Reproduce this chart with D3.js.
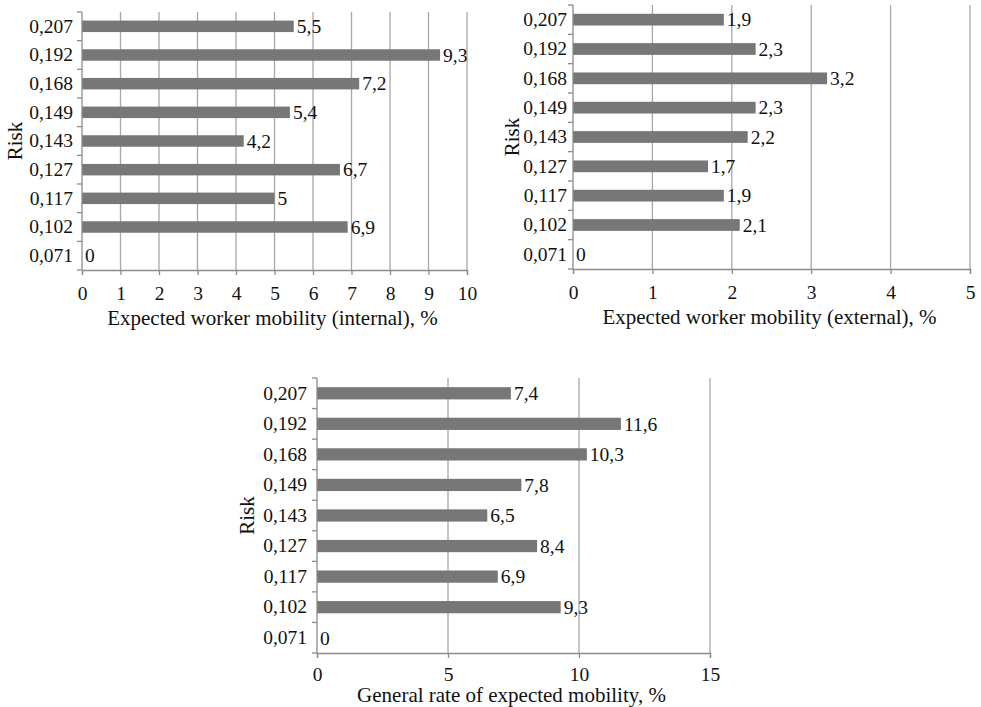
<!DOCTYPE html>
<html>
<head>
<meta charset="utf-8">
<script src="https://cdn.jsdelivr.net/npm/d3@7"></script>
<style>
  html, body { margin: 0; padding: 0; background: #fff; }
  svg { display: block; font-family: "Liberation Serif", "DejaVu Serif", serif; }
</style>
</head>
<body>
<svg id="chart" width="981" height="707"></svg>
<script>
// ---- Data ----
const riskCategories = ["0,207", "0,192", "0,168", "0,149", "0,143", "0,127", "0,117", "0,102", "0,071"];
const internalValues = [5.5, 9.3, 7.2, 5.4, 4.2, 6.7, 5, 6.9, 0];
const externalValues = [1.9, 2.3, 3.2, 2.3, 2.2, 1.7, 1.9, 2.1, 0];
const generalValues  = [7.4, 11.6, 10.3, 7.8, 6.5, 8.4, 6.9, 9.3, 0];
const internalTicks = [0, 1, 2, 3, 4, 5, 6, 7, 8, 9, 10];
const externalTicks = [0, 1, 2, 3, 4, 5];
const generalTicks  = [0, 5, 10, 15];
const xTitles = [
  "Expected worker mobility (internal), %",
  "Expected worker mobility (external), %",
  "General rate of expected mobility, %"
];
const yTitle = "Risk";

// ---- Layout ----
const panels = [
  { values: internalValues, ticks: internalTicks, title: xTitles[0],
    x0: 82, x1: 467, y0: 12, y1: 270, tickLabelDy: 23, titleDy: 48, yLabelGap: 9, riskX: 15 },
  { values: externalValues, ticks: externalTicks, title: xTitles[1],
    x0: 573, x1: 970, y0: 5, y1: 269, tickLabelDy: 23, titleDy: 48, yLabelGap: 6, riskX: 512 },
  { values: generalValues, ticks: generalTicks, title: xTitles[2],
    x0: 317, x1: 710, y0: 378, y1: 653, tickLabelDy: 21, titleDy: 42, yLabelGap: 10, riskX: 247 }
];

const fmt = v => String(v).replace(".", ",");
const svg = d3.select("#chart");
const fontSize = 19.5;
const titleSize = 21;
const fontFamily = "Liberation Serif";
const barColor = "#777777";
const gridColor = "#a8a8a8";
const axisColor = "#8c8c8c";

panels.forEach(p => {
  const g = svg.append("g");
  const x = d3.scaleLinear().domain([p.ticks[0], p.ticks[p.ticks.length - 1]]).range([p.x0, p.x1]);
  const y = d3.scaleBand().domain(riskCategories).range([p.y0, p.y1]).paddingInner(0.6).paddingOuter(0.3);
  const bandStep = (p.y1 - p.y0) / riskCategories.length;

  // gridlines
  g.selectAll("line.grid").data(p.ticks.slice(1)).enter().append("line")
    .attr("class", "grid")
    .attr("x1", d => x(d)).attr("x2", d => x(d))
    .attr("y1", p.y0).attr("y2", p.y1)
    .attr("stroke", gridColor).attr("stroke-width", 1.3);

  // bars
  g.selectAll("rect.bar").data(p.values).enter().append("rect")
    .attr("class", "bar")
    .attr("x", x(0))
    .attr("y", (d, i) => y(riskCategories[i]))
    .attr("width", d => x(d) - x(0))
    .attr("height", y.bandwidth())
    .attr("fill", barColor);

  // value labels
  g.selectAll("text.val").data(p.values).enter().append("text")
    .attr("class", "val")
    .attr("x", d => x(d) + 3)
    .attr("y", (d, i) => y(riskCategories[i]) + y.bandwidth() / 2)
    .attr("dy", "0.35em")
    .attr("font-size", fontSize)
    .attr("font-family", fontFamily)
    .attr("fill", "#111")
    .text(d => fmt(d));

  // x axis
  const xAxis = d3.axisBottom(x).tickValues(p.ticks).tickSize(5).tickFormat(d => fmt(d));
  const xa = g.append("g").attr("transform", `translate(0,${p.y1})`).call(xAxis);
  xa.select(".domain").attr("stroke", axisColor).attr("stroke-width", 1.3);
  xa.selectAll(".tick line").attr("stroke", axisColor).attr("stroke-width", 1.3);
  xa.selectAll(".tick text").attr("font-size", fontSize).attr("font-family", fontFamily)
    .attr("fill", "#111").attr("y", p.tickLabelDy).attr("dy", "0.35em");

  // y axis
  const ya = g.append("g").attr("transform", `translate(${p.x0},0)`)
    .call(d3.axisLeft(y).tickSize(0).tickPadding(p.yLabelGap));
  ya.select(".domain").remove();
  ya.selectAll(".tick text").attr("font-size", fontSize).attr("font-family", fontFamily).attr("fill", "#111");
  g.append("line").attr("x1", p.x0).attr("x2", p.x0).attr("y1", p.y0).attr("y2", p.y1)
    .attr("stroke", axisColor).attr("stroke-width", 1.3);
  // boundary ticks on y axis
  g.selectAll("line.ytick").data(d3.range(riskCategories.length + 1)).enter().append("line")
    .attr("class", "ytick")
    .attr("x1", p.x0 - 5).attr("x2", p.x0)
    .attr("y1", i => p.y0 + i * bandStep).attr("y2", i => p.y0 + i * bandStep)
    .attr("stroke", axisColor).attr("stroke-width", 1.3);

  // axis titles
  g.append("text")
    .attr("x", (p.x0 + p.x1) / 2 - 2)
    .attr("y", p.y1 + p.titleDy)
    .attr("dy", "0.35em")
    .attr("text-anchor", "middle")
    .attr("font-size", titleSize)
    .attr("font-family", fontFamily)
    .attr("fill", "#111")
    .text(p.title);
  g.append("text")
    .attr("transform", `translate(${p.riskX},${(p.y0 + p.y1) / 2}) rotate(-90)`)
    .attr("dy", "0.35em")
    .attr("text-anchor", "middle")
    .attr("font-size", titleSize)
    .attr("font-family", fontFamily)
    .attr("fill", "#111")
    .text(yTitle);
});
</script>
</body>
</html>
